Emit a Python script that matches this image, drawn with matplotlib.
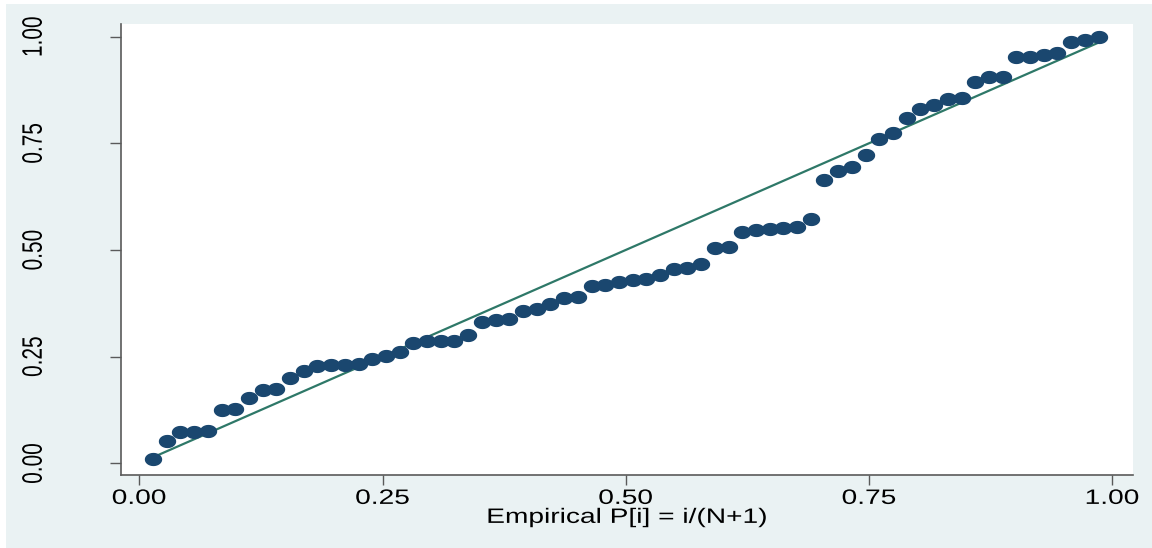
import numpy as np
import matplotlib
matplotlib.use("Agg")
import matplotlib.pyplot as plt
import matplotlib.patheffects as pe
from matplotlib.path import Path
from matplotlib.patches import Rectangle
from matplotlib.transforms import Affine2D

# P-P plot: empirical P[i] = i/(N+1) against the fitted normal probabilities
n_obs = 70
fitted_p = [
    0.009, 0.052, 0.074, 0.074, 0.076, 0.125, 0.127, 0.152, 0.171, 0.174,
    0.200, 0.216, 0.229, 0.231, 0.231, 0.233, 0.244, 0.252, 0.262, 0.283,
    0.287, 0.287, 0.287, 0.301, 0.330, 0.336, 0.339, 0.356, 0.362, 0.374,
    0.387, 0.390, 0.416, 0.417, 0.424, 0.430, 0.433, 0.442, 0.456, 0.458,
    0.467, 0.505, 0.507, 0.542, 0.546, 0.550, 0.552, 0.553, 0.573, 0.664,
    0.684, 0.695, 0.723, 0.761, 0.773, 0.809, 0.830, 0.840, 0.854, 0.856,
    0.894, 0.905, 0.905, 0.951, 0.951, 0.956, 0.962, 0.988, 0.991, 0.998,
]
ticks = [0.0, 0.25, 0.5, 0.75, 1.0]
tick_labels = ["0.00", "0.25", "0.50", "0.75", "1.00"]

empirical_p = np.arange(1, n_obs + 1) / (n_obs + 1)

bg = "#eaf2f3"
navy = "#1a476f"
green = "#2e7868"
axis_grey = "#5a5a5a"
stretch = 1.35


class Stretch(pe.AbstractPathEffect):
    """Scale glyphs about their own centre (widened text look)."""

    def __init__(self, sx=1.0, sy=1.0):
        super().__init__()
        self.sx, self.sy = sx, sy

    def draw_path(self, renderer, gc, tpath, affine, rgbFace=None):
        ext = tpath.get_extents()
        cx, cy = (ext.x0 + ext.x1) / 2, (ext.y0 + ext.y1) / 2
        t = Affine2D().translate(-cx, -cy).scale(self.sx, self.sy).translate(cx, cy) + affine
        renderer.draw_path(gc, tpath, t, rgbFace)


wide = [Stretch(sx=stretch)]
wide_rot = [Stretch(sy=stretch)]
font = ["Liberation Sans", "DejaVu Sans"]

# wide elliptical marker
t = np.linspace(0, 2 * np.pi, 40)
ell = Path(np.column_stack([stretch * np.cos(t), np.sin(t)]), closed=True)

fig = plt.figure(figsize=(11.52, 5.48), dpi=100, facecolor=bg)
fig.patches.append(Rectangle((0, 0), 6 / 1152, 1, transform=fig.transFigure,
                             facecolor="white", edgecolor="none", zorder=-5))
fig.patches.append(Rectangle((0, 1 - 4 / 548), 1, 4 / 548, transform=fig.transFigure,
                             facecolor="white", edgecolor="none", zorder=-5))

ax = fig.add_axes([121 / 1152, 73 / 548, 1012 / 1152, 451 / 548])
ax.set_facecolor("white")

ax.plot(empirical_p, fitted_p, linestyle="none", marker=ell, markersize=11.5,
        markerfacecolor=navy, markeredgecolor=navy, zorder=3)
ax.plot([empirical_p[0], empirical_p[-1]], [empirical_p[0], empirical_p[-1]],
        color=green, linewidth=1.6, zorder=2)

ax.set_xlim(-0.0188, 1.0213)
ax.set_ylim(-0.0274, 1.0295)

for side in ["top", "right"]:
    ax.spines[side].set_visible(False)
for side in ["left", "bottom"]:
    ax.spines[side].set_color(axis_grey)
    ax.spines[side].set_linewidth(1.2)

ax.set_xticks(ticks)
ax.set_xticklabels(tick_labels, family=font, fontsize=15, path_effects=wide)
ax.set_yticks(ticks)
ax.set_yticklabels(tick_labels, family=font, fontsize=15, rotation=90,
                   va="center", path_effects=wide_rot)
ax.tick_params(axis="x", length=7, width=1, color=axis_grey, pad=3)
ax.tick_params(axis="y", length=8, width=1, color=axis_grey, pad=48)

ax.set_xlabel("Empirical P[i] = i/(N+1)", family=font, fontsize=15,
              labelpad=0, path_effects=wide)

fig.savefig("out.png", dpi=100, facecolor=bg)
